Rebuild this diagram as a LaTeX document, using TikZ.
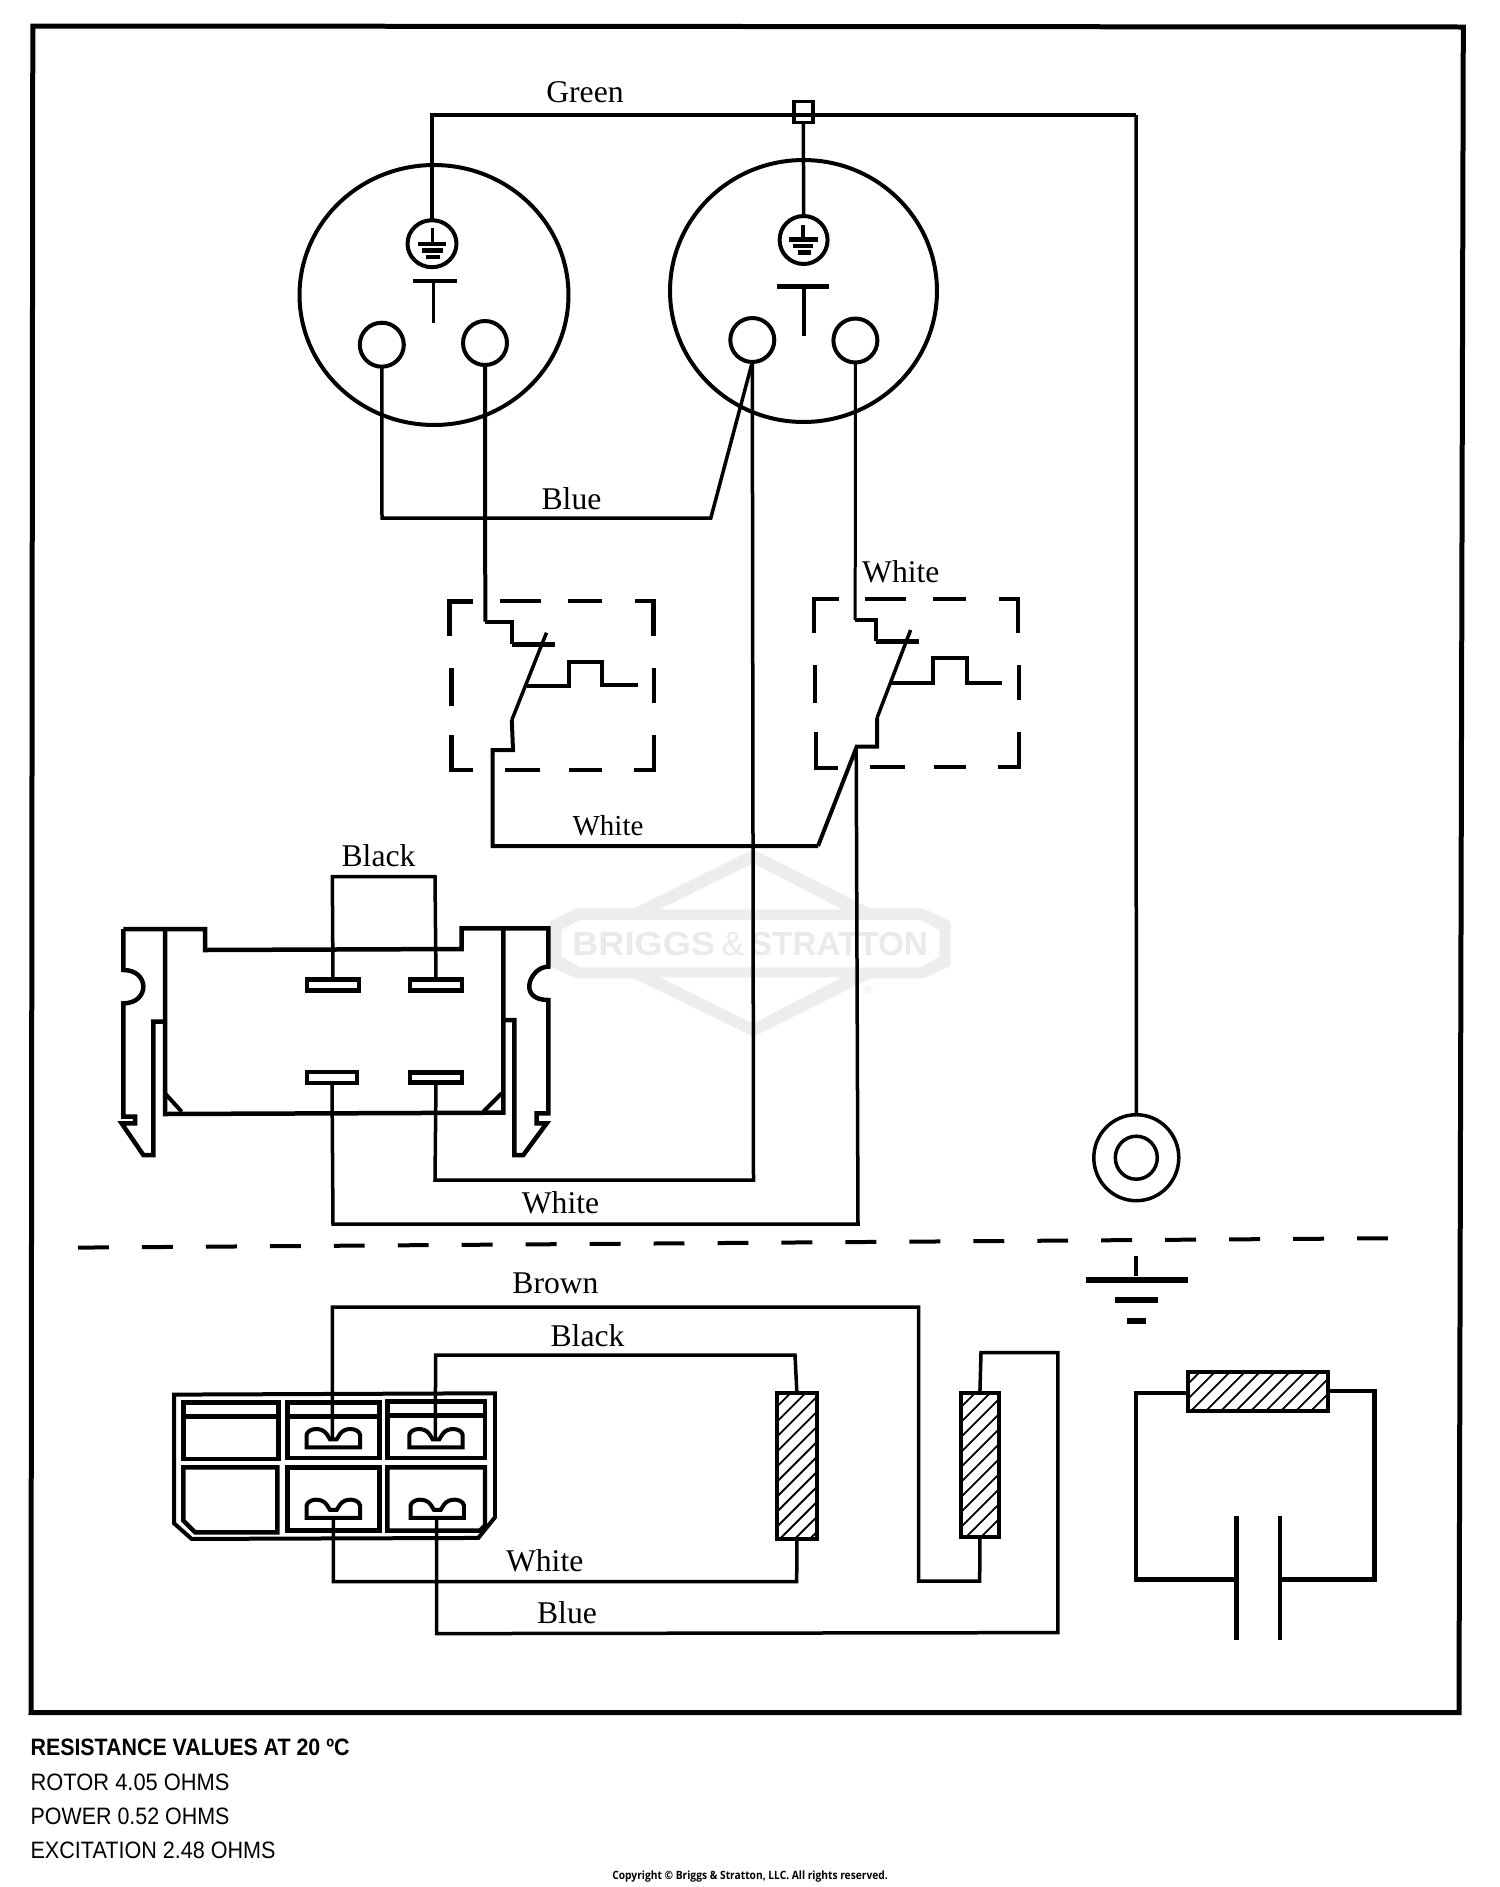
\documentclass[tikz,border=0pt]{standalone}
\usepackage{fontspec}
\usetikzlibrary{shapes.geometric}
\setmainfont{Liberation Serif}
\newfontfamily\arialf{Liberation Sans}
\newfontfamily\copyf{Open Sans}
\definecolor{wm}{HTML}{EDEDED}
\definecolor{wmt}{HTML}{EAEAEA}
\tikzset{
  wa/.style={line width=0.06cm},
  wb/.style={line width=0.07cm},
  wc/.style={line width=0.08cm},
  wd/.style={line width=0.09cm},
  we/.style={line width=0.10cm},
  hole/.style={ellipse,draw,line width=0.08cm,inner sep=0,outer sep=0,minimum width=0.88cm,minimum height=0.88cm},
  term/.style={rectangle,draw,line width=0.09cm,inner sep=0,outer sep=0},
  coil/.style={rectangle,draw,line width=0.08cm,inner sep=0,outer sep=0},
  lab/.style={inner sep=0,outer sep=0,font=\fontsize{18pt}{20pt}\selectfont},
  noteb/.style={inner sep=0,outer sep=0,anchor=west,font=\arialf\bfseries\fontsize{13.5pt}{15pt}\selectfont},
  note/.style={inner sep=0,outer sep=0,anchor=west,font=\arialf\fontsize{13.5pt}{15pt}\selectfont},
  dashline/.style={line width=0.08cm,dash pattern=on 17.6pt off 18.8pt},
}
\newcommand{\hatchfill}[4]{%
  \begin{scope}
    \clip (#1,#2) rectangle (#3,#4);
    \foreach \k in {0,...,14} \draw[line width=0.036cm] (#1,{#2+\k*15}) -- ++(220,-220);
  \end{scope}}
\newcommand{\termshape}[2]{%
  \draw[line width=0.08cm,shift={(#1,#2)}] (440,230) -- (440,192) .. controls (445,172) and (485,168) .. (500,190) -- (510,206) -- (530,206) -- (540,190) .. controls (555,168) and (595,172) .. (600,192) -- (600,230) -- cycle;}
\begin{document}
\begin{tikzpicture}[x=0.02cm,y=-0.02cm,line join=miter]
\useasboundingbox (0,0) rectangle (1500,1887);
\fill[white] (0,0) rectangle (1500,1887);

% watermark
\begin{scope}[shift={(540,840)},scale=0.33333]
  \fill[wm] (28,245) -- (108,205) -- (282,205) -- (640,28) -- (960,190) -- (990,205) -- (1150,205) -- (1232,245) -- (1232,378) -- (1150,415) -- (990,415) -- (960,430) -- (640,590) -- (282,415) -- (108,415) -- (28,378) -- cycle;
  \fill[white] (65,270) -- (120,240) -- (1140,240) -- (1198,270) -- (1198,350) -- (1140,382) -- (120,382) -- (65,350) -- cycle;
  \fill[white] (360,208) -- (640,70) -- (905,208) -- cycle;
  \fill[white] (360,412) -- (640,550) -- (905,412) -- cycle;
  \coordinate (wmA) at (311,311);
  \coordinate (wmB) at (579,312);
  \coordinate (wmC) at (897,311);
  \coordinate (wmD) at (985,452);
\end{scope}
\node[inner sep=0,text=wmt,font=\arialf\bfseries\fontsize{19pt}{20pt}\selectfont] (wmbriggs) at (wmA) {\resizebox{2.86cm}{\height}{BRIGGS}};
\node[inner sep=0,text=wmt,font=\arialf\fontsize{19pt}{20pt}\selectfont] (wmamp) at (wmB) {\&};
\node[inner sep=0,text=wmt,font=\arialf\bfseries\fontsize{19pt}{20pt}\selectfont] (wmstratton) at (wmC) {\resizebox{3.56cm}{\height}{STRATTON}};
\node[inner sep=0,text=wmt,font=\arialf\fontsize{7pt}{8pt}\selectfont] (wmreg) at (wmD) {®};

% frame
\draw[we] (32.8,26) -- (1463.3,27) -- (1459,1712.5) -- (31,1712.7) -- cycle;

% sockets
\node[ellipse,draw,wc,inner sep=0,outer sep=0,minimum width=5.38cm,minimum height=5.20cm] (sockL) at (434,295) {};
\node[ellipse,draw,wc,inner sep=0,outer sep=0,minimum width=5.34cm,minimum height=5.24cm] (sockR) at (803.5,291) {};
\node[hole] (hLa) at (381.8,344.7) {};
\node[hole] (hLb) at (485,343) {};
\node[hole] (hRa) at (752.3,340) {};
\node[hole] (hRb) at (855.4,340.5) {};
\node[ellipse,draw,wc,inner sep=0,outer sep=0,minimum width=0.98cm,minimum height=0.94cm] (eL) at (432,243.7) {};
\node[ellipse,draw,wc,inner sep=0,outer sep=0,minimum width=0.96cm,minimum height=0.96cm] (eR) at (803.6,240) {};
% earth marks and T marks
\draw[wb] (432.7,228) -- (432.7,244);
\draw[wd] (417.5,244) -- (446,244) (422,250.7) -- (443,250.7) (426,257) -- (440,257);
\draw[wb] (803,225) -- (803,239);
\draw[wd] (789,239.3) -- (818,239.3) (793,246) -- (813,246) (798,252.7) -- (811,252.7);
\draw[wc] (413,280.7) -- (457,280.7);
\draw[wb] (433.6,280.7) -- (433.6,322.7);
\draw[wd] (777,286.7) -- (829,286.7);
\draw[wb] (804,286.7) -- (804,336);

% splice on green wire
\node[rectangle,draw,wb,inner sep=0,outer sep=0,minimum width=0.38cm,minimum height=0.42cm] (splice) at (803.4,112) {};

% ring terminal
\node[ellipse,draw,wb,inner sep=0,outer sep=0,minimum width=1.70cm,minimum height=1.72cm] (ringO) at (1136.3,1157.7) {};
\node[ellipse,draw,wb,inner sep=0,outer sep=0,minimum width=0.84cm,minimum height=0.86cm] (ringI) at (1136.3,1157.7) {};

% green wires
\coordinate (gA) at (432,115);
\coordinate (gB) at (1136,115);
\draw[wc] (eL.north) -- (gA) -- (gB);
\draw[wb] (gB) -- (ringO.north);
\draw[wb] (splice.south) -- (eR.north);

% blue jumper, white wires
\coordinate (blueA) at (382,518);
\coordinate (blueB) at (710.8,518);
\draw[wb] (hLa.south) -- (blueA) -- (blueB) -- (hRa.south);

% switch 1
\draw[wc] (hLb.south) -- (485.3,621.7);
\draw[wc] (485.3,621.7) -- (511.8,621.7) -- (511.8,644);
\draw[we] (511.8,644) -- (554.7,644);
\draw[wb] (546.5,632.7) -- (511.8,720);
\draw[wc] (511.8,720) -- (513,750) -- (492.6,750) -- (492.6,846) -- (818,846);
\draw[wc] (527,686) -- (569,686) -- (569,661.7) -- (601.6,661.7) -- (601.6,685) -- (637.6,685);
\draw[wd] (473,601.7) -- (449.4,601.7) -- (449.4,636) (500.4,601) -- (541,601) (567.8,601) -- (601.6,601) (635,601) -- (653.5,601) -- (653.5,636)
  (451.4,668) -- (451.4,706) (654,668) -- (654,703)
  (451.4,735) -- (451.4,770) -- (473,770) (505,770) -- (540.4,770) (569,770) -- (601.6,770) (633.5,770) -- (654,770) -- (654,735);

% switch 2
\draw[wa] (hRb.south) -- (855.2,620);
\draw[wc] (855.2,620) -- (876.3,620) -- (876.3,641);
\draw[we] (876.3,641) -- (918.8,641);
\draw[wb] (910.6,630) -- (877,718);
\draw[wc] (877,718) -- (877,746.7) -- (856.7,746.7) -- (818,846);
\draw[wc] (891.4,682.7) -- (933,682.7) -- (933,658) -- (967,658) -- (967,682.7) -- (1001.6,682.7);
\draw[wd] (839,599) -- (814,599) -- (814,633) (865,599) -- (905.7,599) (933,599) -- (966,599) (998.8,599) -- (1018,599) -- (1018,632.7)
  (815,665) -- (815,703) (1018.8,665) -- (1018.8,700)
  (816,732) -- (816,768) -- (838,768) (870,767) -- (904.5,767) (933.5,767) -- (966,767) (997.6,767) -- (1019,767) -- (1019,732);

% relay connector
\begin{scope}[shift={(100,860)},scale=0.33333]
  \draw[wd] (70,207) -- (315,207) -- (315,270) -- (1085,267) -- (1085,205) -- (1345,205) -- (1345,320)
    .. controls (1290,320) and (1250,420) .. (1345,420) -- (1345,760) -- (1310,760) -- (1310,790) -- (1340,790) -- (1270,885) -- (1243,885) -- (1243,480) -- (1210,480);
  \draw[wd] (70,207) -- (70,330) .. controls (150,330) and (150,430) .. (70,430) -- (70,770) -- (105,770) -- (105,790) -- (65,790) -- (130,885) -- (160,885) -- (160,485) -- (195,485);
  \draw[wd] (195,207) -- (195,762) -- (1210,758) -- (1210,210);
  \draw[wc] (195,700) -- (245,755) (1205,700) -- (1150,755);
\end{scope}
\node[term,minimum width=1.04cm,minimum height=0.22cm] (tTL) at (333,985) {};
\node[term,minimum width=1.04cm,minimum height=0.22cm] (tTR) at (436,985) {};
\node[term,minimum width=1.00cm,minimum height=0.22cm] (tBL) at (332,1077.5) {};
\node[term,minimum width=1.04cm,minimum height=0.20cm] (tBR) at (436,1077.5) {};
\coordinate (lA) at (332.3,876.7);
\coordinate (lB) at (435,876.7);
\draw[wb] (tTL.north) -- (lA) -- (lB) -- (tTR.north);
\coordinate (w1A) at (333,1224);
\coordinate (w1B) at (858,1224);
\coordinate (w1C) at (856.2,750);
\draw[wb] (tBL.south) -- (w1A) -- (w1B) -- (w1C);
\coordinate (w2A) at (435,1180);
\coordinate (w2B) at (753.5,1180);
\draw[wb] (tBR.south) -- (w2A) -- (w2B) -- (hRa.south);

% divider
\coordinate (divA) at (78,1247.6);
\coordinate (divB) at (1396,1238.2);
\draw[dashline] (divA) -- (divB);

% ground
\draw[wd] (1136,1256.4) -- (1136,1276.4);
\draw[line width=0.12cm] (1086,1279.8) -- (1187.7,1279.8);
\draw[line width=0.11cm] (1115,1300.1) -- (1157.8,1300.1);
\draw[line width=0.11cm] (1127,1320.8) -- (1146,1320.8);

% stator plug
\begin{scope}[shift={(160,1370.6)},scale=0.33333]
  \draw[wc] (42,72) -- (1005,68) -- (1005,440) -- (955,502) -- (95,505) -- (42,458) -- cycle;
  \draw[wd] (70,95) -- (355,95) -- (355,265) -- (70,265) -- cycle (72,138) -- (352,138);
  \draw[wd] (382,95) -- (658,95) -- (658,262) -- (382,262) -- cycle (384,138) -- (656,138);
  \draw[wd] (682,92) -- (975,92) -- (975,262) -- (682,262) -- cycle (684,135) -- (972,135);
  \draw[wd] (70,290) -- (352,290) -- (352,485) -- (105,485) -- (70,450) -- cycle;
  \draw[wd] (382,290) -- (658,290) -- (658,480) -- (382,480) -- cycle;
  \draw[wd] (682,290) -- (975,290) -- (975,465) -- (960,480) -- (682,480) -- cycle;
  \termshape{0}{0}
  \termshape{308}{0}
  \termshape{0}{212}
  \termshape{312}{212}
  \coordinate (pB) at (517,205);
  \coordinate (pC) at (826,205);
  \coordinate (pE) at (520,442);
  \coordinate (pF) at (830,442);
\end{scope}

% coils
\hatchfill{775.7}{1393}{818.1}{1538.7}
\node[coil,minimum width=0.80cm,minimum height=2.91cm] (coilA) at (796.9,1465.8) {};
\hatchfill{960}{1393}{999.8}{1536.9}
\node[coil,minimum width=0.76cm,minimum height=2.88cm] (coilB) at (979.9,1464.9) {};
\hatchfill{1186.5}{1370.4}{1329.3}{1411.5}
\node[coil,minimum width=2.80cm,minimum height=0.78cm] (coilC) at (1258,1391) {};

% lower wires
\coordinate (brA) at (332.3,1307);
\coordinate (brB) at (918.6,1307);
\coordinate (brC) at (918.6,1581);
\coordinate (brD) at (979.7,1581);
\draw[wb] (pB) -- (brA) -- (brB) -- (brC) -- (brD) -- (coilB.south);
\coordinate (blkA) at (435.6,1355);
\coordinate (blkB) at (795,1355);
\draw[wb] (pC) -- (blkA) -- (blkB) -- (coilA.north);
\coordinate (whA) at (333.3,1581.6);
\coordinate (whB) at (796.7,1581.6);
\draw[wb] (pE) -- (whA) -- (whB) -- (coilA.south);
\coordinate (bluA) at (436.7,1633.6);
\coordinate (bluB) at (1057.9,1632.6);
\coordinate (bluC) at (1057.9,1352.5);
\coordinate (bluD) at (981,1352.5);
\draw[wb] (pF) -- (bluA) -- (bluB) -- (bluC) -- (bluD) -- (coilB.north);

% capacitor loop
\draw[wd] (coilC.west |- 0,1393) -- (1136,1393) -- (1136,1579.5) -- (1236.6,1579.5);
\draw[wd] (1280,1579.5) -- (1374.7,1579.5) -- (1374.7,1391) -- (coilC.east |- 0,1391);
\draw[wd] (1236.6,1515.5) -- (1236.6,1640);
\draw[wd] (1280,1515.5) -- (1280,1640);

% labels
\node[lab] (lGreen) at (585,92) {Green};
\node[lab] (lBlue) at (571.5,499) {Blue};
\node[lab] (lWhiteA) at (900.8,571.7) {White};
\node[lab,font=\fontsize{16.5pt}{18pt}\selectfont] (lWhiteB) at (608,826) {White};
\node[lab] (lBlackA) at (378.5,855.6) {Black};
\node[lab] (lWhiteC) at (560.5,1202.4) {White};
\node[lab] (lBrown) at (555.5,1283.4) {Brown};
\node[lab] (lBlackB) at (587.5,1335.4) {Black};
\node[lab] (lWhiteD) at (544.7,1560.5) {White};
\node[lab] (lBlueB) at (567,1612.5) {Blue};

% notes
\node[noteb] (n0) at (30.6,1747) {\resizebox{6.38cm}{\height}{RESISTANCE VALUES AT 20 ºC}};
\node[note] (n1) at (30.6,1782.7) {\resizebox{3.98cm}{\height}{ROTOR 4.05 OHMS}};
\node[note] (n2) at (30.6,1816.7) {\resizebox{3.98cm}{\height}{POWER 0.52 OHMS}};
\node[note] (n3) at (30.6,1850.7) {\resizebox{4.90cm}{\height}{EXCITATION 2.48 OHMS}};
\node[inner sep=0,anchor=west,font=\copyf\bfseries\fontsize{6.5pt}{8pt}\selectfont] (n4) at (612,1876.7) {\resizebox{5.51cm}{\height}{Copyright © Briggs \& Stratton, LLC. All rights reserved.}};
\end{tikzpicture}
\end{document}
